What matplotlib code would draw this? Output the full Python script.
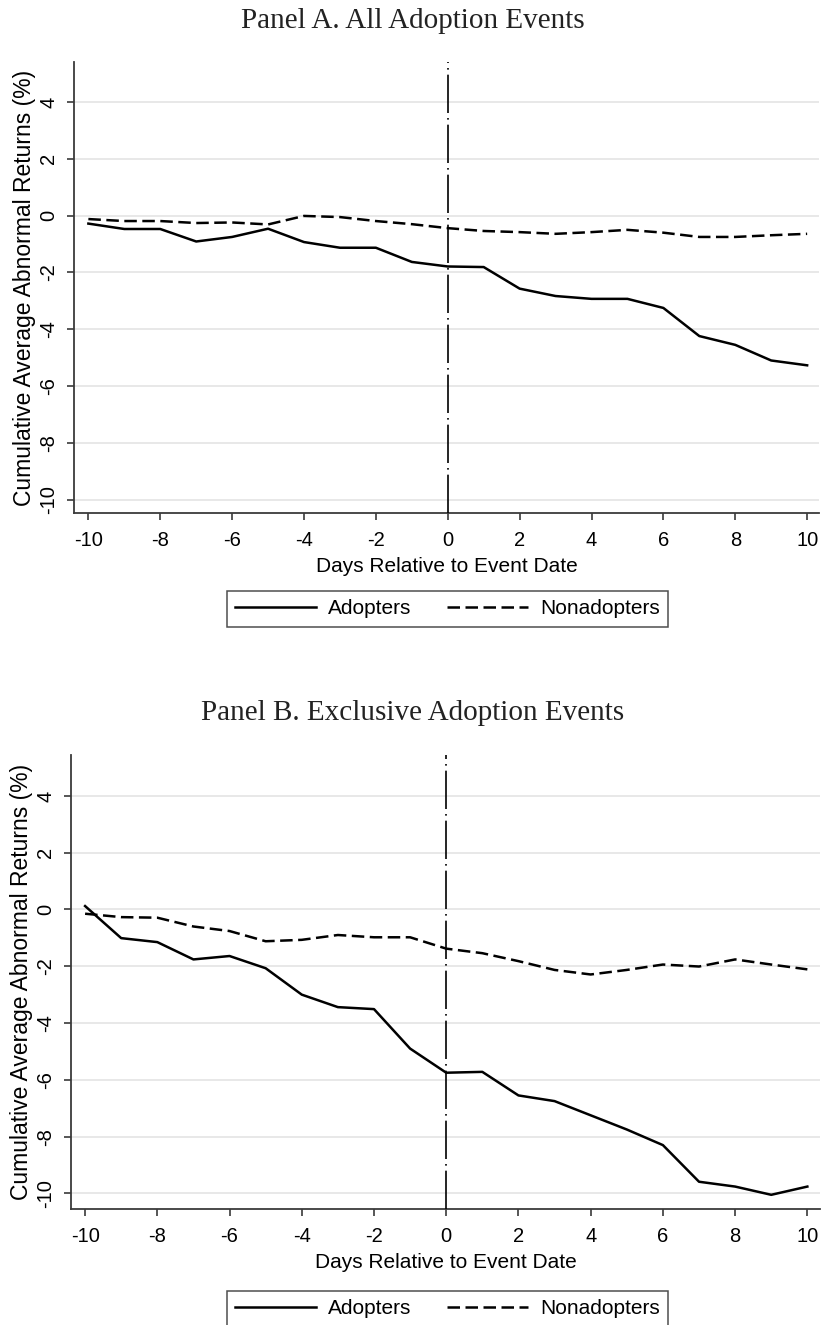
"""Cumulative average abnormal returns around adoption events, two panels."""
import matplotlib
matplotlib.use("Agg")
import matplotlib.pyplot as plt

plt.rcParams["font.family"] = ["Liberation Sans", "DejaVu Sans"]
plt.rcParams["axes.unicode_minus"] = False

DAYS = list(range(-10, 11))

# Panel A. All adoption events
A_ADOPTERS = [-0.28, -0.47, -0.47, -0.91, -0.75, -0.46, -0.93, -1.13, -1.13, -1.63, -1.79,
              -1.81, -2.57, -2.83, -2.93, -2.93, -3.25, -4.24, -4.55, -5.10, -5.27]
A_NONADOPTERS = [-0.12, -0.19, -0.19, -0.26, -0.24, -0.31, -0.01, -0.05, -0.19, -0.30, -0.44,
                 -0.54, -0.58, -0.64, -0.58, -0.50, -0.60, -0.75, -0.75, -0.69, -0.64]

# Panel B. Exclusive adoption events
B_ADOPTERS = [0.12, -1.01, -1.15, -1.76, -1.64, -2.07, -3.00, -3.44, -3.51, -4.90, -5.75,
              -5.72, -6.55, -6.75, -7.25, -7.75, -8.30, -9.59, -9.76, -10.05, -9.76]
B_NONADOPTERS = [-0.15, -0.27, -0.29, -0.60, -0.76, -1.12, -1.07, -0.90, -0.98, -0.98, -1.38,
                 -1.54, -1.82, -2.13, -2.29, -2.13, -1.94, -2.01, -1.76, -1.94, -2.11]

PANELS = [
    ("Panel A. All Adoption Events", A_ADOPTERS, A_NONADOPTERS),
    ("Panel B. Exclusive Adoption Events", B_ADOPTERS, B_NONADOPTERS),
]

YTICKS = [4, 2, 0, -2, -4, -6, -8, -10]
XTICKS = list(range(-10, 11, 2))

W, H = 825, 1325
# axes boxes in pixels: left, top, right, bottom
BOXES = [(74, 62, 819, 513), (71, 755, 820, 1209)]
XLIMS = [(-10.4, 10.33), (-10.39, 10.35)]
YLIMS = [(-10.47, 5.41), (-10.55, 5.44)]
TITLE_BASE = [28, 720]
LEGEND_Y = [609, 1309]


def px_box(l, t, r, b):
    return [l / W, 1 - b / H, (r - l) / W, (b - t) / H]


def main():
    fig = plt.figure(figsize=(W / 100, H / 100), dpi=100)
    for i, (title, adopt, nonadopt) in enumerate(PANELS):
        ax = fig.add_axes(px_box(*BOXES[i]))
        ax.plot(DAYS, adopt, color="black", lw=1.8, label="Adopters")
        ax.plot(DAYS, nonadopt, color="black", lw=1.8, dashes=(5, 2.2),
                label="Nonadopters")
        ax.axvline(0, color="black", lw=1.2, dashes=(23, 3, 1, 3), zorder=3)

        ax.set_xlim(*XLIMS[i])
        ax.set_ylim(*YLIMS[i])
        ax.set_xticks(XTICKS)
        ax.set_yticks(YTICKS)
        ax.set_yticklabels([str(v) for v in YTICKS], rotation=90, va="center")
        ax.grid(axis="y", color="#e4e4e4", lw=1.2)
        ax.set_axisbelow(True)
        for side in ("top", "right"):
            ax.spines[side].set_visible(False)
        for side in ("left", "bottom"):
            ax.spines[side].set_linewidth(1.3)
            ax.spines[side].set_color("#3a3a3a")
        ax.tick_params(labelsize=14.5, length=5, width=1.2, color="#3a3a3a")
        ax.tick_params(axis="x", pad=8)
        ax.tick_params(axis="y", pad=6.5)
        ax.set_xlabel("Days Relative to Event Date", fontsize=15, labelpad=5)
        ax.set_ylabel("Cumulative Average Abnormal Returns (%)", fontsize=16.5,
                      labelpad=2)

        fig.text(0.5, 1 - TITLE_BASE[i] / H, title, ha="center", va="baseline",
                 fontsize=21, family=["Liberation Serif", "DejaVu Serif"],
                 color="#222222")

        leg = fig.legend(handles=ax.get_lines()[:2], ncol=2, loc="center",
                         bbox_to_anchor=(447.5 / W, 1 - LEGEND_Y[i] / H),
                         fontsize=15, frameon=True, fancybox=False,
                         handlelength=3.9, columnspacing=1.7, borderpad=0.4,
                         handletextpad=0.58, borderaxespad=0)
        leg.get_frame().set_edgecolor("#222222")
        leg.get_frame().set_linewidth(1.1)

    fig.savefig("out.png", dpi=100)


if __name__ == "__main__":
    main()
